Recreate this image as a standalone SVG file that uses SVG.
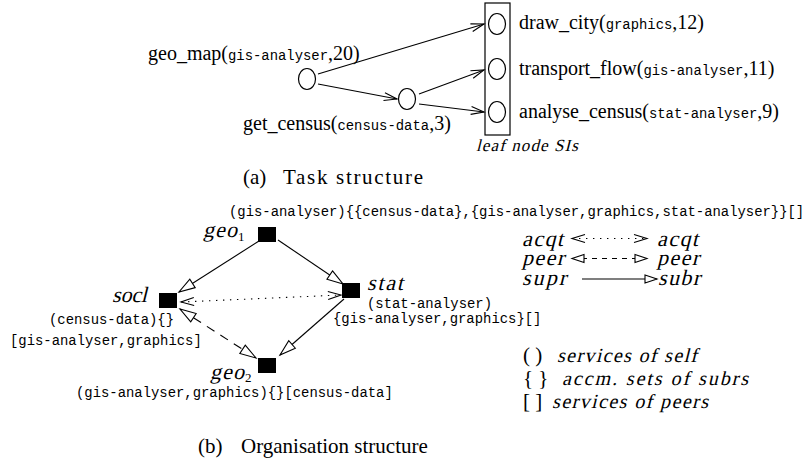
<svg xmlns="http://www.w3.org/2000/svg" width="807" height="466" viewBox="0 0 807 466">
<style>
text{fill:#000}
.rm{font-family:"Liberation Serif","Times New Roman",serif;font-size:20px}
.tt{font-family:"Liberation Mono","Courier New",monospace;font-size:13.9px}
.sk{font-family:"Liberation Serif","Times New Roman",serif;font-style:normal;font-size:22px}
.sks{font-family:"Liberation Serif","Times New Roman",serif;font-style:normal;font-size:20px}
.sub{font-family:"Liberation Serif","Times New Roman",serif;font-size:13px}
.cap{font-family:"Liberation Serif","Times New Roman",serif;font-size:21px}
.ln{stroke:#000;stroke-width:1.1;fill:none}
.dot{stroke-dasharray:1.4 5.6}
.dash{stroke-dasharray:9 7}
.dashs{stroke-dasharray:5 5}
.circ{fill:#fff;stroke:#000;stroke-width:1.2}
.sq{fill:#000}
</style>
<defs>
<marker id="vee" markerUnits="userSpaceOnUse" markerWidth="15" markerHeight="10" refX="13" refY="4.5" orient="auto-start-reverse" overflow="visible">
<path d="M0,0.5 L13,4.5 L0,8.5" fill="none" stroke="#000" stroke-width="1.1"/>
</marker>
<marker id="tri" markerUnits="userSpaceOnUse" markerWidth="18" markerHeight="12" refX="16.5" refY="5.5" orient="auto-start-reverse" overflow="visible">
<path d="M0.5,0.5 L16.5,5.5 L0.5,10.5 Z" fill="#fff" stroke="#000" stroke-width="1.1"/>
</marker>
<marker id="tris" markerUnits="userSpaceOnUse" markerWidth="14" markerHeight="10" refX="12.5" refY="4.5" orient="auto-start-reverse" overflow="visible">
<path d="M0.5,0.5 L12.5,4.5 L0.5,8.5 Z" fill="#fff" stroke="#000" stroke-width="1.1"/>
</marker>
</defs>

<!-- (a) Task structure -->
<g id="connectors-a">
<line class="ln" x1="318" y1="74" x2="484" y2="24" marker-end="url(#vee)"/>
<line class="ln" x1="318" y1="84" x2="397" y2="99" marker-end="url(#vee)"/>
<line class="ln" x1="419" y1="94" x2="484" y2="70" marker-end="url(#vee)"/>
<line class="ln" x1="419" y1="104" x2="484" y2="112" marker-end="url(#vee)"/>
</g>
<g id="geo_map">
<ellipse class="circ" cx="307" cy="79" rx="8.5" ry="10.5"/>
<text class="rm" x="148" y="59.5">geo_map(<tspan class="tt">gis-analyser</tspan>,20)</text>
</g>
<g id="get_census">
<ellipse class="circ" cx="407" cy="99" rx="8.5" ry="10.5"/>
<text class="rm" x="243" y="129.5">get_census(<tspan class="tt">census-data</tspan>,3)</text>
</g>
<g id="leaf-box">
<rect x="485" y="3" width="25" height="132" fill="none" stroke="#000" stroke-width="1.2"/>
<text class="sks" transform="translate(476,151) skewX(-14)" textLength="102" lengthAdjust="spacing" style="font-size:17px">leaf node SIs</text>
</g>
<g id="draw_city">
<ellipse class="circ" cx="497" cy="24" rx="8.5" ry="10.5"/>
<text class="rm" x="519" y="29">draw_city(<tspan class="tt">graphics</tspan>,12)</text>
</g>
<g id="transport_flow">
<ellipse class="circ" cx="497" cy="69" rx="8.5" ry="10.5"/>
<text class="rm" x="519" y="75">transport_flow(<tspan class="tt">gis-analyser</tspan>,11)</text>
</g>
<g id="analyse_census">
<ellipse class="circ" cx="497" cy="112" rx="8.5" ry="10.5"/>
<text class="rm" x="519" y="118">analyse_census(<tspan class="tt">stat-analyser</tspan>,9)</text>
</g>
<text class="cap" y="184"><tspan x="243">(a)</tspan><tspan x="283" textLength="140" lengthAdjust="spacing">Task structure</tspan></text>

<!-- (b) Organisation structure -->
<g id="connectors-b">
<line class="ln" x1="259" y1="241" x2="179" y2="292" marker-end="url(#tri)"/>
<line class="ln" x1="278" y1="240" x2="343" y2="284" marker-end="url(#tri)"/>
<line class="ln" x1="344" y1="299" x2="280" y2="355" marker-end="url(#tri)"/>
<line class="ln dash" x1="180" y1="309" x2="256" y2="358" marker-start="url(#tri)" marker-end="url(#tri)"/>
<line class="ln dot" x1="181" y1="302" x2="341" y2="295" marker-start="url(#vee)" marker-end="url(#vee)"/>
</g>
<g id="geo1">
<rect class="sq" x="258" y="227" width="18" height="15"/>
<text class="sk" transform="translate(203,237) skewX(-14)" textLength="34" lengthAdjust="spacing">geo</text>
<text class="sub" x="238" y="240.5">1</text>
<text class="tt" x="229" y="216">(gis-analyser){{census-data},{gis-analyser,graphics,stat-analyser}}[]</text>
</g>
<g id="socl">
<rect class="sq" x="159" y="293" width="18" height="15"/>
<text class="sk" transform="translate(112,302) skewX(-14)" textLength="35" lengthAdjust="spacing">socl</text>
<text class="tt" x="49" y="324">(census-data){}</text>
<text class="tt" x="10" y="345">[gis-analyser,graphics]</text>
</g>
<g id="stat">
<rect class="sq" x="342" y="283" width="18" height="15"/>
<text class="sk" transform="translate(367,290) skewX(-14)" textLength="36" lengthAdjust="spacing">stat</text>
<text class="tt" x="367" y="308">(stat-analyser)</text>
<text class="tt" x="333" y="323">{gis-analyser,graphics}[]</text>
</g>
<g id="geo2">
<rect class="sq" x="258" y="358" width="18" height="15"/>
<text class="sk" transform="translate(210,379) skewX(-14)" textLength="34" lengthAdjust="spacing">geo</text>
<text class="sub" x="245" y="382">2</text>
<text class="tt" x="76" y="397">(gis-analyser,graphics){}[census-data]</text>
</g>

<!-- legend -->
<g id="legend">
<text class="sk" transform="translate(522,246) skewX(-14)" textLength="41" lengthAdjust="spacing">acqt</text>
<text class="sk" transform="translate(657,246) skewX(-14)" textLength="41" lengthAdjust="spacing">acqt</text>
<text class="sk" transform="translate(522,265) skewX(-14)" textLength="42" lengthAdjust="spacing">peer</text>
<text class="sk" transform="translate(657,265) skewX(-14)" textLength="42" lengthAdjust="spacing">peer</text>
<text class="sk" transform="translate(522,285) skewX(-14)" textLength="44" lengthAdjust="spacing">supr</text>
<text class="sk" transform="translate(658,285) skewX(-14)" textLength="42" lengthAdjust="spacing">subr</text>
<line class="ln dot" x1="572" y1="238.5" x2="647" y2="238.5" marker-start="url(#vee)" marker-end="url(#vee)"/>
<line class="ln dashs" x1="572" y1="258.5" x2="647" y2="258.5" marker-start="url(#tris)" marker-end="url(#tris)"/>
<line class="ln" x1="582" y1="279" x2="657" y2="279" marker-end="url(#tris)"/>
<text class="cap" x="523" y="362">( )</text>
<text class="sks" transform="translate(557,362) skewX(-14)" textLength="140" lengthAdjust="spacing">services of self</text>
<text class="cap" x="523" y="385">{ }</text>
<text class="sks" transform="translate(562,385) skewX(-14)" textLength="186" lengthAdjust="spacing">accm. sets of subrs</text>
<text class="cap" x="523" y="408">[ ]</text>
<text class="sks" transform="translate(552,408) skewX(-14)" textLength="156" lengthAdjust="spacing">services of peers</text>
</g>
<text class="cap" y="453"><tspan x="198">(b)</tspan><tspan x="241">Organisation structure</tspan></text>
</svg>
